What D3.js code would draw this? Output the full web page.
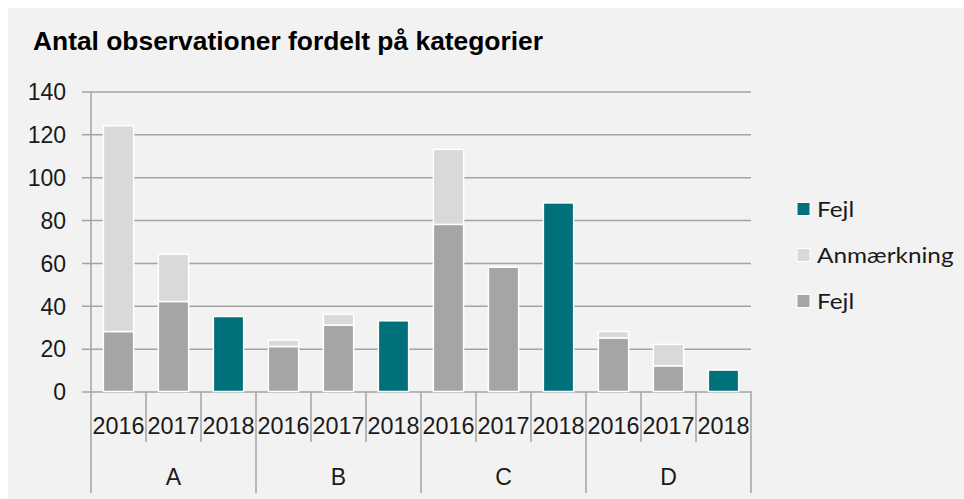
<!DOCTYPE html>
<html><head><meta charset="utf-8">
<script src="https://cdn.jsdelivr.net/npm/d3@7"></script>
<style>body{margin:0;background:#fff;}svg{display:block;}</style>
</head><body>
<svg id="chart" width="964" height="499"></svg>
<script>
const categories = ["A", "B", "C", "D"];
const years = ["2016", "2017", "2018"];
// values per category, per year
const fejlGrey    = [[28, 42, 0], [21, 31, 0], [78, 58, 0], [25, 12, 0]];
const anmaerkning = [[96, 22, 0], [3, 5, 0], [35, 0, 0], [3, 10, 0]];
const fejlTeal    = [[0, 0, 35], [0, 0, 33], [0, 0, 88], [0, 0, 10]];
const yTicks = [0, 20, 40, 60, 80, 100, 120, 140];
const seriesKeys = ["fejlGrey", "anm", "fejlTeal"];
const seriesNames = {fejlGrey: "Fejl", anm: "Anmærkning", fejlTeal: "Fejl"};
const colors = {fejlGrey: "#a5a5a5", anm: "#d9d9d9", fejlTeal: "#00717a"};
const title = "Antal observationer fordelt på kategorier";

const rows = [];
categories.forEach((c, ci) => years.forEach((y, yi) => rows.push({
  cat: c, year: y, id: c + "-" + y,
  fejlGrey: fejlGrey[ci][yi], anm: anmaerkning[ci][yi], fejlTeal: fejlTeal[ci][yi]
})));

const svg = d3.select("#chart");
svg.append("rect").attr("x", 8).attr("y", 8).attr("width", 956).attr("height", 491).attr("fill", "#f2f2f2");

const pLeft = 91, pRight = 751, pTop = 91.5, pBottom = 391.5;
const y = d3.scaleLinear().domain([0, 140]).range([pBottom, pTop]);
const xg = d3.scaleBand().domain(categories).range([pLeft, pRight]).padding(0);
const xy = d3.scaleBand().domain(years).range([0, xg.bandwidth()]).paddingInner(0.45).paddingOuter(0.225);
const gridColor = "#a3a3a3";
const axisFont = "Liberation Sans, Arial, sans-serif";

svg.append("text").attr("x", 33).attr("y", 50).text(title)
  .attr("font-family", axisFont).attr("font-weight", "bold")
  .attr("font-size", 25).attr("fill", "#000")
  .attr("textLength", 510).attr("lengthAdjust", "spacingAndGlyphs");

// y axis with gridlines
const yAxis = d3.axisLeft(y).tickValues(yTicks).tickSize(-(pRight - pLeft)).tickPadding(0).tickFormat(d3.format("d"));
const ga = svg.append("g").attr("transform", `translate(${pLeft},0)`).call(yAxis);
ga.select(".domain").remove();
ga.selectAll(".tick line").attr("x1", -9).attr("stroke", gridColor).attr("stroke-width", 1.5);
ga.selectAll(".tick text").attr("x", -25).attr("dy", "0.36em")
  .attr("font-family", axisFont).attr("font-size", 23).attr("fill", "#1a1a1a");
svg.append("line").attr("x1", pLeft).attr("x2", pLeft).attr("y1", pTop).attr("y2", 493)
  .attr("stroke", gridColor).attr("stroke-width", 1.5);

// bars
const stack = d3.stack().keys(seriesKeys)(rows);
svg.append("g").selectAll("g").data(stack).join("g").attr("fill", d => colors[d.key])
  .selectAll("rect").data(d => d.filter(p => p[1] - p[0] > 0)).join("rect")
  .attr("x", d => xg(d.data.cat) + xy(d.data.year))
  .attr("width", xy.bandwidth())
  .attr("y", d => y(d[1]))
  .attr("height", d => y(d[0]) - y(d[1]))
  .attr("stroke", "#ffffff").attr("stroke-width", 1.5);

// x axis: separators and labels
const xa = svg.append("g");
categories.forEach(c => {
  const g0 = xg(c);
  years.forEach((yr, i) => {
    if (i > 0) {
      const xs = g0 + xy.step() * i;
      xa.append("line").attr("x1", xs).attr("x2", xs).attr("y1", pBottom).attr("y2", 442)
        .attr("stroke", gridColor).attr("stroke-width", 1.5);
    }
    xa.append("text").attr("x", g0 + xy(yr) + xy.bandwidth() / 2).attr("y", 434)
      .attr("text-anchor", "middle").text(yr)
      .attr("font-family", axisFont).attr("font-size", 23).attr("fill", "#1a1a1a")
      .attr("textLength", 52).attr("lengthAdjust", "spacingAndGlyphs");
  });
  xa.append("text").attr("x", g0 + xg.bandwidth() / 2).attr("y", 485)
    .attr("text-anchor", "middle").text(c)
    .attr("font-family", axisFont).attr("font-size", 23).attr("fill", "#1a1a1a");
  xa.append("line").attr("x1", g0 + xg.bandwidth()).attr("x2", g0 + xg.bandwidth()).attr("y1", pBottom).attr("y2", 493)
    .attr("stroke", gridColor).attr("stroke-width", 1.5);
});

// legend
const legendKeys = seriesKeys.slice().reverse();
const lg = svg.append("g").selectAll("g").data(legendKeys).join("g")
  .attr("transform", (d, i) => `translate(797,${209 + i * 46})`);
lg.append("rect").attr("x", 0).attr("y", -6.5).attr("width", 13).attr("height", 13)
  .attr("fill", d => colors[d]).attr("stroke", "#fff").attr("stroke-width", 1);
const lt = lg.append("text").attr("x", 20).attr("y", 0).attr("dy", "0.36em").text(d => seriesNames[d])
  .attr("font-family", "Lato, 'Open Sans', sans-serif").attr("font-size", 21).attr("fill", "#1a1a1a");
// stretch legend labels horizontally to match reference proportions
const stretch = 1.16;
lt.each(function() {
  const w = this.getComputedTextLength();
  d3.select(this).attr("textLength", w * stretch).attr("lengthAdjust", "spacingAndGlyphs");
});
</script>
</body></html>
